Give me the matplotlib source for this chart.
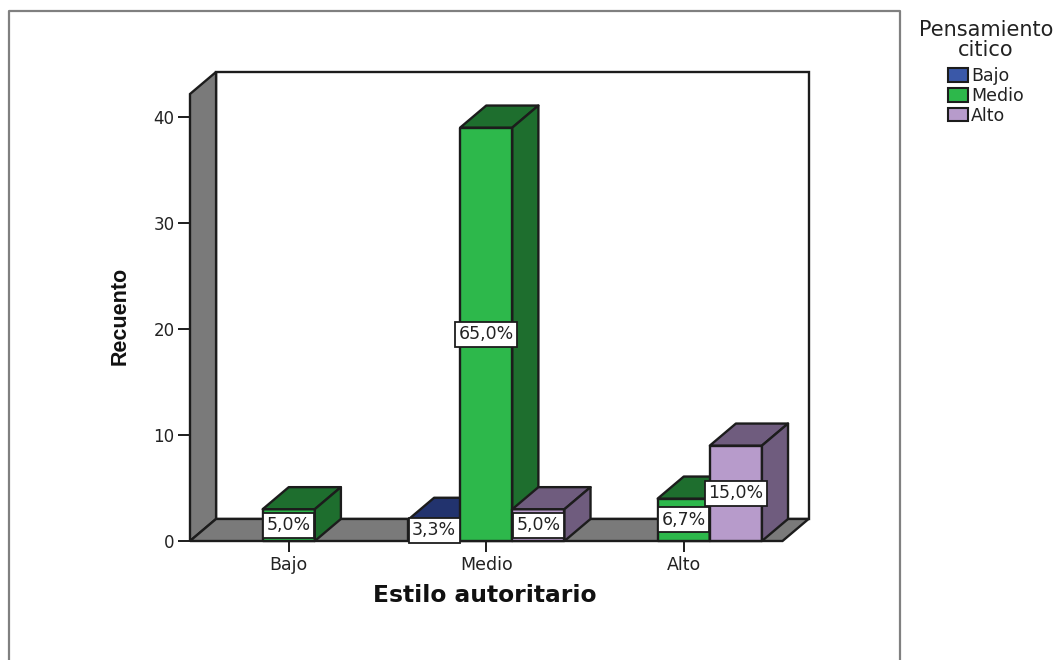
import matplotlib
matplotlib.use('Agg')
import matplotlib.pyplot as plt
from matplotlib.lines import Line2D
from matplotlib.patches import Patch, Polygon

plt.rcParams['font.family'] = ['DejaVu Sans']

categorias = ["Bajo", "Medio", "Alto"]
serie_nombres = ["Bajo", "Medio", "Alto"]
valores_bajo = [0, 2, 0]
valores_medio = [3, 39, 4]
valores_alto = [0, 3, 9]
porc_bajo = ["", "3,3%", ""]
porc_medio = ["5,0%", "65,0%", "6,7%"]
porc_alto = ["", "5,0%", "15,0%"]
yticks = [0, 10, 20, 30, 40]

C_FRENTE = ["#3A58A8", "#2DB84B", "#B79BCB"]
C_LADO = ["#22336E", "#1E6E2E", "#6F5C7E"]
GRIS = "#7A7A7A"
LINEA = "#1C1C1C"
TEXTO = "#222222"
W, H = 1060, 660

# profundidad 3D y ancho de barra, en unidades de datos
DX, DY = 0.132, 2.08
ANCHO = 0.264
XMIN, XMAX, YMAX = -0.5, 2.5, 42.17


def caja(ax, x0, x1, v, col, lado, z):
    kw = dict(ec=LINEA, lw=1.7, joinstyle="round", clip_on=False, zorder=z)
    ax.add_patch(Polygon([(x0, 0), (x1, 0), (x1, v), (x0, v)], fc=col, **kw))
    ax.add_patch(Polygon([(x0, v), (x1, v), (x1 + DX, v + DY), (x0 + DX, v + DY)],
                         fc=lado, **kw))
    ax.add_patch(Polygon([(x1, 0), (x1 + DX, DY), (x1 + DX, v + DY), (x1, v)],
                         fc=lado, **kw))


fig = plt.figure(figsize=(W / 100, H / 100), dpi=100, facecolor="white")
ax = fig.add_axes([190 / W, 1 - 541 / H, 592.5 / W, 447 / H])
ax.set_xlim(XMIN, XMAX)
ax.set_ylim(0, YMAX)
ax.patch.set_visible(False)
for s in ax.spines.values():
    s.set_visible(False)

# marco exterior (abierto por abajo)
xs = [9 / W, 9 / W, 900 / W, 900 / W]
ys = [0, 1 - 11 / H, 1 - 11 / H, 0]
fig.add_artist(Line2D(xs, ys, color="#808080", lw=1.6))

# paredes y suelo
kw = dict(ec=LINEA, lw=1.7, clip_on=False, zorder=1)
ax.add_patch(Polygon([(XMIN + DX, DY), (XMAX + DX, DY), (XMAX + DX, YMAX + DY),
                      (XMIN + DX, YMAX + DY)], fc="white", **kw))
ax.add_patch(Polygon([(XMIN, 0), (XMIN + DX, DY), (XMIN + DX, YMAX + DY), (XMIN, YMAX)],
                     fc=GRIS, **kw))
ax.add_patch(Polygon([(XMIN, 0), (XMAX, 0), (XMAX + DX, DY), (XMIN + DX, DY)],
                     fc=GRIS, **kw))

# barras, de izquierda a derecha
series = [valores_bajo, valores_medio, valores_alto]
etiquetas = [porc_bajo, porc_medio, porc_alto]
z = 2
for i in range(len(categorias)):
    for j, vals in enumerate(series):
        if vals[i] == 0:
            continue
        xc = i + (j - 1) * ANCHO
        caja(ax, xc - ANCHO / 2, xc + ANCHO / 2, vals[i], C_FRENTE[j], C_LADO[j], z)
        z += 1

# etiquetas de porcentaje encima de todo
for i in range(len(categorias)):
    for j, vals in enumerate(series):
        if vals[i] == 0:
            continue
        xc = i + (j - 1) * ANCHO
        ax.text(xc, vals[i] / 2, etiquetas[j][i], ha="center", va="center",
                fontsize=12.5, color=TEXTO, zorder=50, clip_on=False,
                bbox=dict(boxstyle="square,pad=0.2", fc="white", ec=LINEA, lw=1.3))

ax.set_xticks(range(len(categorias)))
ax.set_xticklabels(categorias, fontsize=12.5, color=TEXTO)
ax.set_yticks(yticks)
ax.tick_params(axis="y", length=9, width=1.4, labelsize=12, pad=2, color=LINEA,
               labelcolor=TEXTO)
ax.tick_params(axis="x", length=8, width=1.4, pad=3, color=LINEA)

ax.set_xlabel("Estilo autoritario", fontsize=16.8, fontweight="bold", va="center",
              color="#111111")
ax.xaxis.set_label_coords(0.498, -0.121)
ax.set_ylabel("Recuento", fontsize=15.5, fontweight="bold", va="center",
              family="Liberation Sans", color="#111111")
ax.yaxis.set_label_coords(-0.118, 0.503)

manejadores = [Patch(fc=c, ec=LINEA, lw=1.5) for c in C_FRENTE]
leg = fig.legend(manejadores, serie_nombres, title="Pensamiento\ncitico",
                 loc="upper center", bbox_to_anchor=(986 / W, 1 - 8 / H),
                 frameon=False, fontsize=12.5, title_fontsize=15,
                 labelspacing=0.1, handlelength=1.15, handleheight=0.85,
                 handletextpad=0.2, borderpad=0.2, labelcolor=TEXTO)
leg.get_title().set_multialignment("center")
leg.get_title().set_color(TEXTO)
leg.get_title().set_linespacing(1.0)
leg._legend_box.sep = 5

fig.savefig("out.png", dpi=100)
